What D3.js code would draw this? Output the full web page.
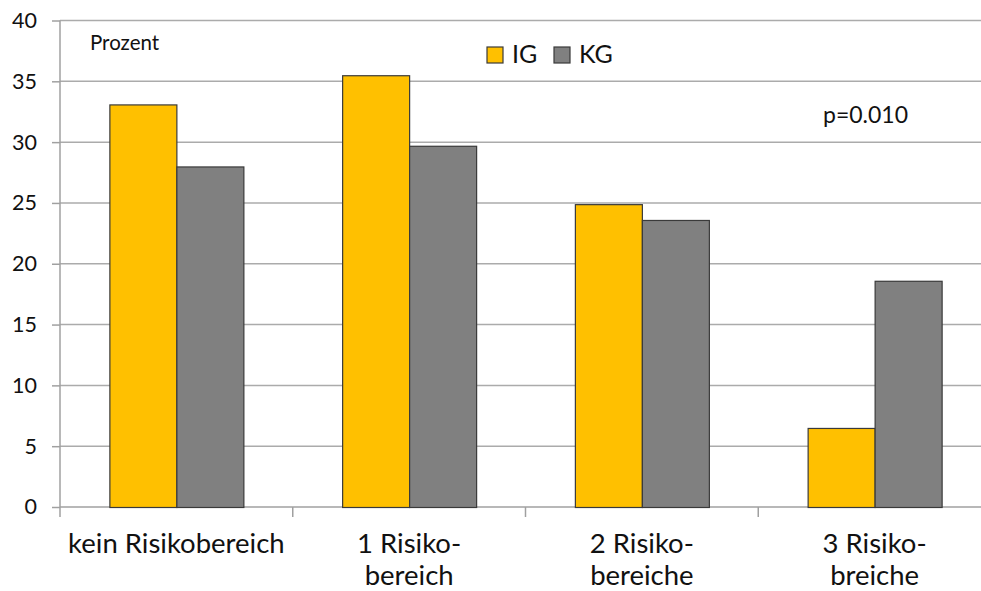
<!DOCTYPE html>
<html>
<head>
<meta charset="utf-8">
<script src="https://cdn.jsdelivr.net/npm/d3@7"></script>
<style>
  html, body { margin: 0; padding: 0; background: #fff; }
  svg { display: block; }
  text { font-family: Lato, "Open Sans", sans-serif; fill: #111; }
</style>
</head>
<body>
<svg id="chart" width="981" height="591"></svg>
<script>
// Anteil je Anzahl Risikobereiche, Interventions- (IG) und Kontrollgruppe (KG)
const categories = [
  ["kein Risikobereich"],
  ["1 Risiko-", "bereich"],
  ["2 Risiko-", "bereiche"],
  ["3 Risiko-", "breiche"]
];
const seriesNames = ["IG", "KG"];
const igValues = [33.1, 35.5, 24.9, 6.5];
const kgValues = [28.0, 29.7, 23.6, 18.6];
const yTicks = [0, 5, 10, 15, 20, 25, 30, 35, 40];
const colors = { IG: "#FFC000", KG: "#808080" };

const svg = d3.select("#chart");
const plotLeft = 60, plotRight = 991, plotTop = 20.5, plotBottom = 507;

const catKeys = categories.map(c => c.join(" "));
const x = d3.scaleBand().domain(catKeys).range([plotLeft, plotRight])
  .paddingInner(0.4243).paddingOuter(0.21215);
const xs = d3.scaleBand().domain(seriesNames).range([0, x.bandwidth()]);
const y = d3.scaleLinear().domain([0, 40]).range([plotBottom, plotTop]);

// horizontal gridlines
svg.append("g").selectAll("line").data(yTicks.filter(t => t > 0)).join("line")
  .attr("x1", plotLeft).attr("x2", plotRight)
  .attr("y1", d => y(d)).attr("y2", d => y(d))
  .attr("stroke", "#ababab").attr("stroke-width", 1.5);

// y axis
const yAxis = svg.append("g").attr("transform", `translate(${plotLeft},0)`)
  .call(d3.axisLeft(y).tickValues(yTicks).tickSize(8).tickPadding(15));
yAxis.select(".domain").attr("stroke", "#a0a0a0").attr("stroke-width", 1.5)
  .attr("d", `M0,${plotTop}V${plotBottom}`);
yAxis.selectAll(".tick line").attr("stroke", "#a0a0a0").attr("stroke-width", 1.5);
yAxis.selectAll(".tick text").attr("font-size", 21.5).attr("fill", "#111")
  .attr("font-family", "Lato, sans-serif");

// x axis baseline and category dividers
const step = x.step();
const dividers = d3.range(categories.length + 1).map(i => plotLeft + i * step);
svg.append("line").attr("x1", plotLeft).attr("x2", plotRight)
  .attr("y1", y(0)).attr("y2", y(0))
  .attr("stroke", "#a0a0a0").attr("stroke-width", 1.5);
svg.append("g").selectAll("line").data(dividers).join("line")
  .attr("x1", d => d).attr("x2", d => d)
  .attr("y1", y(0)).attr("y2", y(0) + 10)
  .attr("stroke", "#a0a0a0").attr("stroke-width", 1.5);

// bars
const rows = categories.map((c, i) => ({ key: catKeys[i], IG: igValues[i], KG: kgValues[i] }));
const groups = svg.append("g").selectAll("g").data(rows).join("g")
  .attr("transform", d => `translate(${x(d.key)},0)`);
groups.selectAll("rect").data(d => seriesNames.map(s => ({ s, v: d[s] }))).join("rect")
  .attr("x", d => xs(d.s) + 0.5)
  .attr("width", xs.bandwidth())
  .attr("y", d => y(d.v) + 0.5)
  .attr("height", d => y(0) - y(d.v))
  .attr("fill", d => colors[d.s])
  .attr("stroke", "#3a3a3a").attr("stroke-width", 1.2);

// category labels (two lines where hyphenated)
const labels = svg.append("g").selectAll("text").data(categories).join("text")
  .attr("x", (d, i) => x(catKeys[i]) + x.bandwidth() / 2)
  .attr("y", 553)
  .attr("text-anchor", "middle")
  .attr("font-size", 27.5);
labels.selectAll("tspan").data(d => d).join("tspan")
  .attr("x", function () { return this.parentNode.getAttribute("x"); })
  .attr("dy", (d, i) => i === 0 ? 0 : 31.5)
  .text(d => d);

// unit label
svg.append("text").attr("x", 90).attr("y", 49.5).attr("font-size", 20.5).text("Prozent");

// legend
const legendX = [487, 554];
const legend = svg.append("g").selectAll("g").data(seriesNames).join("g")
  .attr("transform", (d, i) => `translate(${legendX[i]},47)`);
legend.append("rect").attr("width", 16).attr("height", 16)
  .attr("fill", d => colors[d]).attr("stroke", "#3a3a3a").attr("stroke-width", 1.2);
legend.append("text").attr("x", 25).attr("y", 16).attr("font-size", 25).text(d => d);

// significance note
svg.append("text").attr("x", 823).attr("y", 123).attr("font-size", 23).text("p=0.010");
</script>
</body>
</html>
